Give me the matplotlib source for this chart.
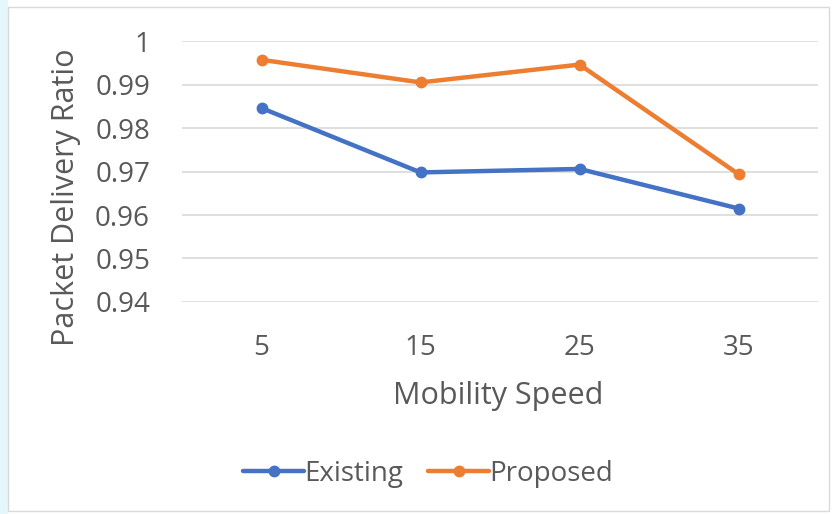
import matplotlib
matplotlib.use("Agg")
import matplotlib.pyplot as plt
from matplotlib.patches import Rectangle

speeds = ["5", "15", "25", "35"]
existing = [0.9846, 0.9698, 0.9706, 0.9615]
proposed = [0.9957, 0.9905, 0.9946, 0.9694]
yticks = [0.94, 0.95, 0.96, 0.97, 0.98, 0.99, 1.0]
ytick_labels = ["0.94", "0.95", "0.96", "0.97", "0.98", "0.99", "1"]

plt.rcParams["font.family"] = ["Open Sans", "DejaVu Sans"]
text_color = "#595959"

fig = plt.figure(figsize=(8.36, 5.14), dpi=100)
# pale page tint at the left edge and the chart's frame
fig.add_artist(Rectangle((0, 0), 0.01, 1, transform=fig.transFigure,
                         facecolor="#e6f7fb", edgecolor="none", zorder=-11))
fig.add_artist(Rectangle((0.01, 0.006), 0.982, 0.98, transform=fig.transFigure,
                         facecolor="white", edgecolor="#d9d9d9", lw=1.0, zorder=-10))

ax = fig.add_axes([0.2177, 0.4125, 0.7608, 0.5075])
ax.set_facecolor("none")
x = range(len(speeds))
ax.plot(x, existing, color="#4472C4", lw=3.2, marker="o", ms=7.5, label="Existing",
        solid_capstyle="round", zorder=3)
ax.plot(x, proposed, color="#ED7D31", lw=3.2, marker="o", ms=7.5, label="Proposed",
        solid_capstyle="round", zorder=3)

ax.set_xlim(-0.5, len(speeds) - 0.5)
ax.set_ylim(0.94, 1.0)
ax.set_yticks(yticks)
ax.set_yticklabels(ytick_labels)
ax.set_xticks(list(x))
ax.set_xticklabels(speeds)
ax.grid(axis="y", color="#d9d9d9", lw=1.2)
ax.set_axisbelow(True)
for s in ax.spines.values():
    s.set_visible(False)
ax.tick_params(length=0, labelsize=20, labelcolor=text_color)
ax.tick_params(axis="y", pad=23)
ax.tick_params(axis="x", pad=23)

ax.set_xlabel("Mobility Speed", fontsize=22, color=text_color)
ax.xaxis.label.set_va("center")
ax.xaxis.set_label_coords(0.497, -0.362)
ax.set_ylabel("Packet Delivery Ratio", fontsize=22, color=text_color)
ax.yaxis.label.set_va("center")
ax.yaxis.set_label_coords(-0.182, 0.40)

leg = fig.legend(loc="center", bbox_to_anchor=(0.512, 0.078), ncol=2, frameon=False,
                 fontsize=20, handlelength=2.2, columnspacing=0.9, handletextpad=0.0)
for t in leg.get_texts():
    t.set_color(text_color)

fig.savefig("out.png", dpi=100)
